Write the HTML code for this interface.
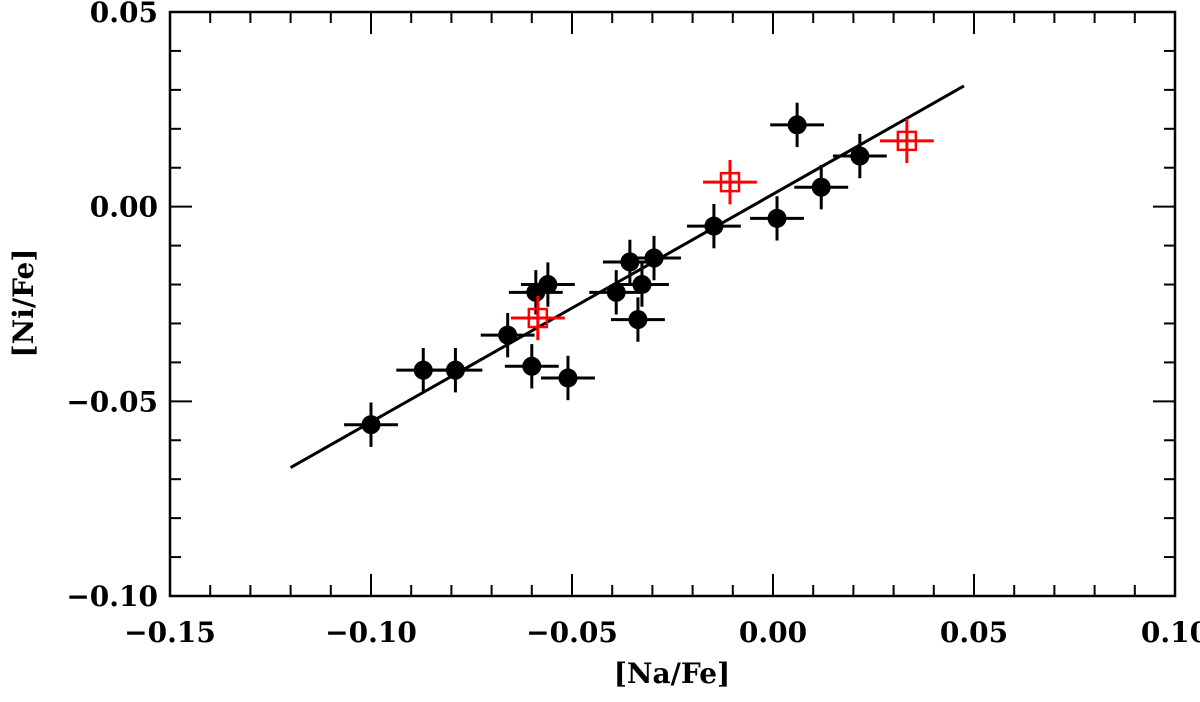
<!DOCTYPE html>
<html><head><meta charset="utf-8"><style>
body{margin:0;background:#fff}
svg text{font-family:"DejaVu Serif","Liberation Serif",serif;font-weight:bold;fill:#000}
</style></head><body>
<svg id="chart" width="1200" height="697" viewBox="0 0 1200 697" xmlns="http://www.w3.org/2000/svg">
<g id="axes"></g>
<g id="marks"></g>
<text x="672" y="683" font-size="28" text-anchor="middle">[Na/Fe]</text>
<text transform="translate(33,303) rotate(-90)" font-size="28" text-anchor="middle">[Ni/Fe]</text>
</svg>
<script>
const blackX=[-0.100,-0.087,-0.079,-0.066,-0.060,-0.059,-0.056,-0.051,-0.039,-0.0356,-0.0326,-0.0336,-0.0296,-0.0147,0.001,0.006,0.012,0.0216];
const blackY=[-0.056,-0.042,-0.042,-0.033,-0.041,-0.022,-0.020,-0.044,-0.022,-0.0142,-0.020,-0.029,-0.0132,-0.005,-0.003,0.021,0.005,0.013];
const redX=[-0.0585,-0.0107,0.0333];
const redY=[-0.0286,0.0063,0.0169];
const fitX=[-0.120,0.0475];
const fitY=[-0.067,0.031];
const errX=0.0067, errY=0.0057;
const xTicks=[-0.15,-0.10,-0.05,0.00,0.05,0.10];
const xTickLabels=["\u22120.15","\u22120.10","\u22120.05","0.00","0.05","0.10"];
const yTicks=[0.05,0.00,-0.05,-0.10];
const yTickLabels=["0.05","0.00","\u22120.05","\u22120.10"];

const L=170,R=1175,T=12,B=596;
const xs=v=>L+(v+0.15)/0.25*(R-L);
const ys=v=>T+(0.05-v)/0.15*(B-T);
const NS="http://www.w3.org/2000/svg";
function mk(tag,attrs,parent){const e=document.createElementNS(NS,tag);for(const k in attrs)e.setAttribute(k,attrs[k]);parent.appendChild(e);return e;}
const ax=document.getElementById('axes'), mg=document.getElementById('marks');
const frame=mk('rect',{x:L,y:T,width:R-L,height:B-T,fill:'none',stroke:'#000','stroke-width':2.5},ax);


for(let i=0;i<=25;i++){const v=-0.15+i*0.01;const x=xs(v);const len=i%5==0?22:11;
 const t1=mk('line',{x1:x,x2:x,y1:B,y2:B-len,stroke:'#000','stroke-width':2},ax);
 
 
 mk('line',{x1:x,x2:x,y1:T,y2:T+len,stroke:'#000','stroke-width':2},ax);}
for(let i=0;i<=15;i++){const v=0.05-i*0.01;const y=ys(v);const len=i%5==0?22:11;
 const t2=mk('line',{x1:L,x2:L+len,y1:y,y2:y,stroke:'#000','stroke-width':2},ax);
 
 
 mk('line',{x1:R,x2:R-len,y1:y,y2:y,stroke:'#000','stroke-width':2},ax);}
xTicks.forEach((v,i)=>{const t=mk('text',{x:xs(v),y:B+46,'font-size':28,'text-anchor':'middle'},ax);t.textContent=xTickLabels[i];
 
 });
yTicks.forEach((v,i)=>{const t=mk('text',{x:L-12,y:ys(v)+10,'font-size':28,'text-anchor':'end'},ax);t.textContent=yTickLabels[i];
 
 });
const fit=mk('line',{x1:xs(fitX[0]),y1:ys(fitY[0]),x2:xs(fitX[1]),y2:ys(fitY[1]),stroke:'#000','stroke-width':3},mg);


function errs(x,y,col,g){mk('line',{x1:xs(x-errX),x2:xs(x+errX),y1:ys(y),y2:ys(y),stroke:col,'stroke-width':3},g);
 mk('line',{x1:xs(x),x2:xs(x),y1:ys(y-errY),y2:ys(y+errY),stroke:col,'stroke-width':3},g);}
blackX.forEach((x,i)=>{const g=mk('g',{},mg);
 
 
 errs(x,blackY[i],'#000',g);mk('circle',{cx:xs(x),cy:ys(blackY[i]),r:9.5,fill:'#000'},g);});
redX.forEach((x,i)=>{const g=mk('g',{},mg);
 
 
 errs(x,redY[i],'#f00',g);mk('rect',{x:xs(x)-9,y:ys(redY[i])-9,width:18,height:18,fill:'none',stroke:'#f00','stroke-width':2.5},g);});
</script>
</body></html>
